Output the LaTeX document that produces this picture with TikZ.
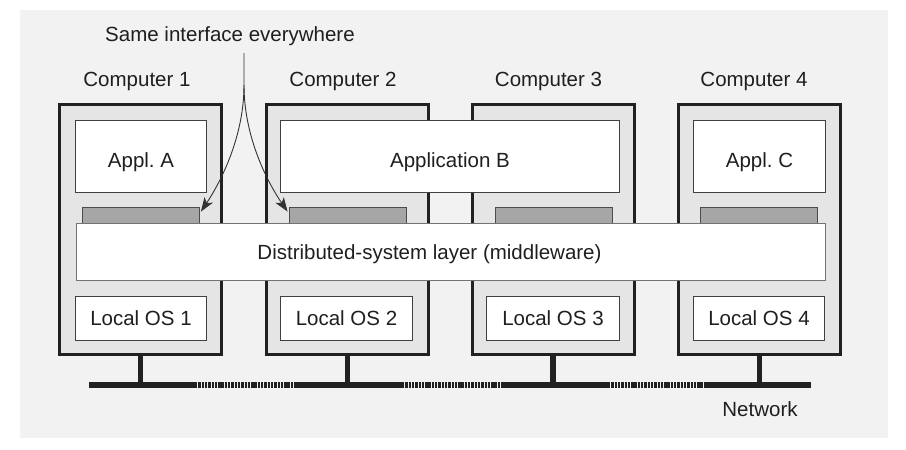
\documentclass[tikz,border=0pt]{standalone}
\usepackage{fontspec}
\setmainfont{Liberation Sans}
\usetikzlibrary{
  arrows.meta,
  positioning
}

\begin{document}
\begin{tikzpicture}[
      x=1pt,y=-1pt,
      font=\fontsize{20.5}{24}\selectfont,
      every node/.style={text=black!88},
      computer/.style={
         rectangle,
         line width=3pt,
         draw=black!87,
         fill=black!10,
         minimum width=162pt,
         minimum height=250pt,
         inner sep=0pt
      },
      appbox/.style={
         rectangle,
         line width=0.9pt,
         draw=black!75,
         fill=white,
         minimum height=72pt,
         text height=21pt,
         text depth=0pt
      },
      ifacebar/.style={
         rectangle,
         line width=0.8pt,
         draw=black!70,
         fill=black!35,
         minimum width=117pt,
         minimum height=16pt,
         inner sep=0pt
      },
      layer/.style={
         rectangle,
         line width=1pt,
         draw=black!55,
         fill=white,
         minimum width=749pt,
         minimum height=57pt,
         inner sep=0pt
      },
      osbox/.style={
         rectangle,
         line width=0.9pt,
         draw=black!75,
         fill=white,
         minimum height=44pt
      },
      plain/.style={inner sep=0pt,anchor=base},
      stem/.style={line width=5.5pt,draw=black!87},
      bus/.style={line width=6pt,draw=black!87},
      busdots/.style={bus,dash pattern=on 2.4pt off 0.9pt},
      tip/.style={-{Stealth[length=14pt,width=10pt,inset=3.5pt]},line width=0.9pt,draw=black!80}
    ]
    \fill[black!5] (20,10) rectangle (888,438);
    \useasboundingbox (0,0) rectangle (906,450);

    \node (c1) [computer] at (140.5,229.5) {};
    \node (c2) [computer] at (347.5,229.5) {};
    \node (c3) [computer] at (553,229.5) {};
    \node (c4) [computer] at (759.5,229.5) {};

    \node (l1) [plain] at (137,86.5) {Computer 1};
    \node (l2) [plain] at (343,86.5) {Computer 2};
    \node (l3) [plain] at (548.5,86.5) {Computer 3};
    \node (l4) [plain] at (754,86.5) {Computer 4};

    \node (a1) [appbox, minimum width=131pt] at (141,156.5) {Appl.\ A};
    \node (a2) [appbox, minimum width=339pt] at (450,156.5) {Application B};
    \node (a3) [appbox, minimum width=132pt] at (759.5,156.5) {Appl.\ C};

    \node (i1) [ifacebar] at (141,215) {};
    \node (i2) [ifacebar] at (347.5,215) {};
    \node (i3) [ifacebar] at (553.5,215) {};
    \node (i4) [ifacebar] at (759,215) {};

    \node (mw) [layer] at (451,252) {};
    \node (mwtext) [plain] at (429.5,259.5) {Distributed-system layer (middleware)};

    \node (os1) [osbox, minimum width=131pt] at (141,318.5) {Local OS 1};
    \node (os2) [osbox, minimum width=132pt] at (346.5,318.5) {Local OS 2};
    \node (os3) [osbox, minimum width=133pt] at (553,318.5) {Local OS 3};
    \node (os4) [osbox, minimum width=131pt] at (759,318.5) {Local OS 4};

    \coordinate (b1) at (141,385);
    \coordinate (b2) at (348,385);
    \coordinate (b3) at (553,385);
    \coordinate (b4) at (759,385);

    \draw[stem] (c1.south) -- (c1.south |- b1);
    \draw[stem] (c2.south) -- (c2.south |- b2);
    \draw[stem] (c3.south) -- (c3.south |- b3);
    \draw[stem] (c4.south) -- (c4.south |- b4);

    \draw[bus] ([xshift=-52pt]b1) -- ([xshift=54pt]b1);
    \draw[busdots] ([xshift=54pt]b1) -- ([xshift=-52pt]b2);
    \draw[bus] ([xshift=-52pt]b2) -- ([xshift=54pt]b2);
    \draw[busdots] ([xshift=54pt]b2) -- ([xshift=-51pt]b3);
    \draw[bus] ([xshift=-51pt]b3) -- ([xshift=55pt]b3);
    \draw[busdots] ([xshift=55pt]b3) -- ([xshift=-53pt]b4);
    \draw[bus] ([xshift=-53pt]b4) -- ([xshift=52pt]b4);

    \node (net) [plain] at (760,416.5) {Network};

    \node (same) [plain] at (230,41.5) {Same interface everywhere};
    \coordinate (src) at (244,53);
    \coordinate (fork) at (244,85);
    \draw[tip] (src) -- (fork) .. controls (244,140) and (218,186) .. ([xshift=1pt,yshift=-5pt]i1.north east);
    \draw[tip] (fork) .. controls (244,140) and (270,186) .. ([xshift=-1pt,yshift=-5pt]i2.north west);
\end{tikzpicture}
\end{document}
